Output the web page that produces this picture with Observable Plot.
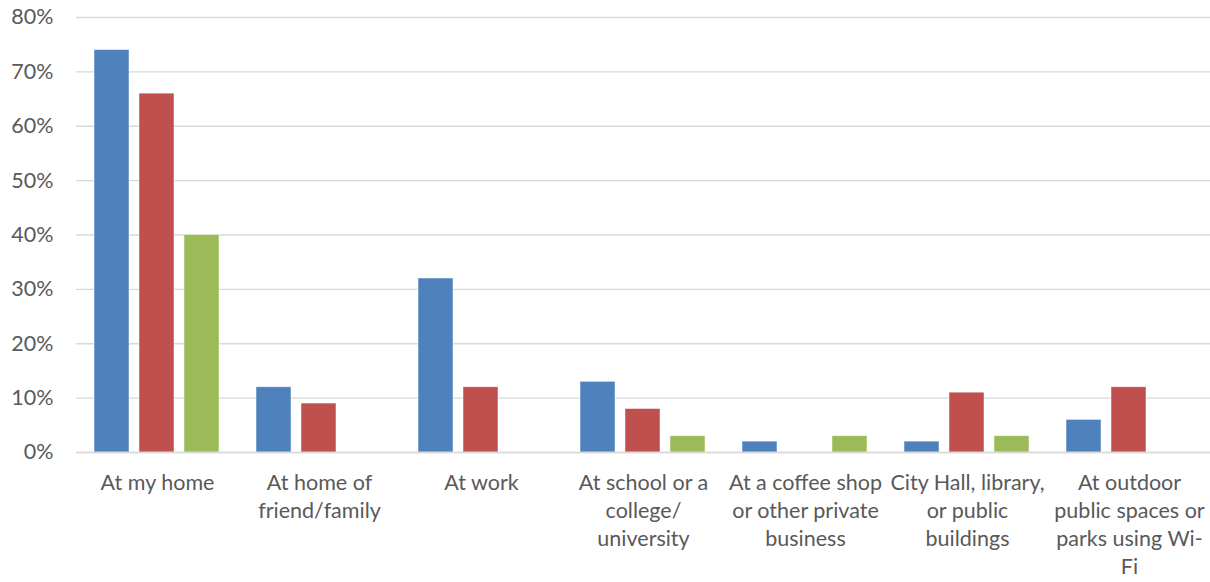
<!DOCTYPE html>
<html><head><meta charset="utf-8">
<script src="https://cdn.jsdelivr.net/npm/d3@7"></script>
<script src="https://cdn.jsdelivr.net/npm/@observablehq/plot@0.6"></script>
<style>body{margin:0;background:#fff;overflow:hidden}</style>
</head><body><div id="chart"></div>
<script>
const categories = ["At my home","At home of friend/family","At work","At school or a college/university","At a coffee shop or other private business","City Hall, library, or public buildings","At outdoor public spaces or parks using Wi-Fi"];
const tickLabels = ["At my home","At home of\nfriend/family","At work","At school or a\ncollege/\nuniversity","At a coffee shop\nor other private\nbusiness","City Hall, library,\nor public\nbuildings","At outdoor\npublic spaces or\nparks using Wi-\nFi"];
const seriesNames = ["Series 1","Series 2","Series 3"];
const seriesColors = ["#4f81bd","#c0504d","#9bbb59"];
const series1 = [74,12,32,13,2,2,6];
const series2 = [66,9,12,8,0,11,12];
const series3 = [40,0,0,3,3,3,0];
const yTicks = [0,0.1,0.2,0.3,0.4,0.5,0.6,0.7,0.8];

const allSeries = [series1, series2, series3];
const data = [];
categories.forEach((c,i) => allSeries.forEach((s,j) => {
  if (s[i] > 0) data.push({category:c, series:seriesNames[j], value:s[i]/100});
}));

const chart = Plot.plot({
  width:1210, height:582,
  marginLeft:75, marginRight:0, marginTop:17, marginBottom:130,
  style:{fontFamily:"Lato, 'Open Sans', sans-serif", fontSize:"21.5px", color:"#595959", background:"#fff", overflow:"visible"},
  fx:{domain:categories, paddingInner:0, paddingOuter:0},
  x:{domain:seriesNames, paddingInner:0.22, paddingOuter:0.39, axis:null},
  y:{domain:[0,0.8], axis:null},
  color:{domain:seriesNames, range:seriesColors},
  marks:[
    Plot.gridY(yTicks, {stroke:"#d9d9d9", strokeOpacity:1, strokeWidth:1.3}),
    Plot.axisY(yTicks, {tickFormat:d => Math.round(d*100)+"%", tickSize:0, tickPadding:23, fontSize:21.5, label:null}),
    Plot.axisFx({anchor:"bottom", tickSize:0, tickPadding:18, lineHeight:1.3, fontSize:21.5, label:null,
      tickFormat:d => tickLabels[categories.indexOf(d)]}),
    Plot.barY(data, {fx:"category", x:"series", y:"value", fill:"series", stroke:"#fff", strokeOpacity:0.6, strokeWidth:0.8}),
    Plot.ruleY([0], {stroke:"#d9d9d9", strokeWidth:1.6})
  ]
});
document.getElementById("chart").appendChild(chart);
</script>
</body></html>
